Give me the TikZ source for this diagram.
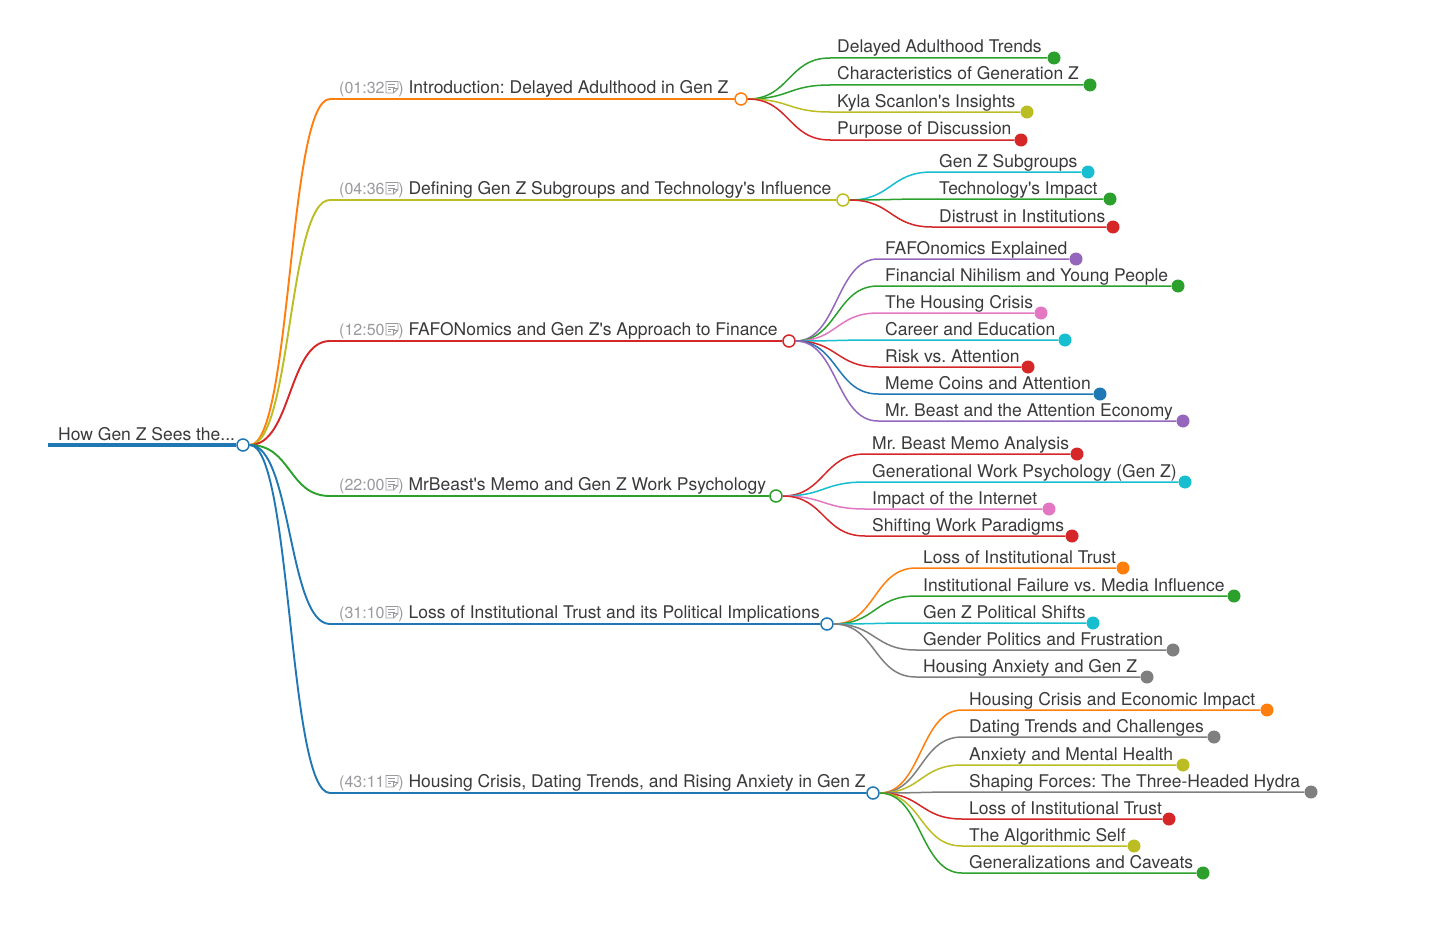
\documentclass[tikz,border=0pt]{standalone}
\usepackage{fontspec}
\setmainfont{TeX Gyre Heros}[Ligatures=TeXOff]

\definecolor{c-blue}{HTML}{1F77B4}
\definecolor{c-orange}{HTML}{FF7F0E}
\definecolor{c-green}{HTML}{2CA02C}
\definecolor{c-red}{HTML}{D62728}
\definecolor{c-purple}{HTML}{9467BD}
\definecolor{c-pink}{HTML}{E377C2}
\definecolor{c-gray}{HTML}{7F7F7F}
\definecolor{c-olive}{HTML}{BCBD22}
\definecolor{c-cyan}{HTML}{17BECF}
\definecolor{ink}{HTML}{3A3A3C}
\definecolor{stampgray}{HTML}{9A9A9E}

% Little note icon behind each time stamp.
\newcommand{\stampicon}{\kern1pt\tikz[baseline=0pt, x=1pt, y=1pt, line width=0.8pt]{%
    \draw[stampgray] (0,0) -- (0,11.5) -- (12,11.5) -- (12,4.5) -- (7.5,0) -- cycle;
    \draw[stampgray] (2.5,8.6) -- (9.5,8.6) (2.5,5.9) -- (9.5,5.9) (2.5,3.2) -- (5.5,3.2);
    \draw[stampgray] (7.5,0) -- (7.5,4.5) -- (12,4.5);}}

\begin{document}
\frenchspacing
\begin{tikzpicture}[%
        x = 1pt,
        y = -1pt,
        font = \fontsize{17.5}{20}\selectfont,
        hub/.style = {circle, draw, fill = white, line width = 1.5pt,
            inner sep = 0pt, minimum size = 12pt},
        leafdot/.style = {circle, inner sep = 0pt, minimum size = 13pt},
        branch/.style = {line width = 1.9pt},
        twig/.style = {line width = 1.5pt},
        maintext/.style = {anchor = base west, inner sep = 0pt, text = ink},
    ]

        % Page frame.
        \fill[white] (0,0) rectangle (1444,934);
        \useasboundingbox (0,0) rectangle (1444,934);

        % The root of the map.
        \coordinate (root-s) at (48,445);
        \node[hub, draw = c-blue] (root) at (243,445) {};
        \draw[c-blue, line width = 4pt] (root-s) -- (root.west);
        \node[maintext] (root-txt) at (58,440) {How Gen Z Sees the...};

        % The six chapters.
        \foreach \name/\y/\xe/\col/\stamptxt/\txt in {%
            intro/99/741/c-orange/01:32/{Introduction: Delayed Adulthood in Gen Z},
            groups/200/843/c-olive/04:36/{Defining Gen Z Subgroups and Technology's Influence},
            fafo/341/789/c-red/12:50/{FAFONomics and Gen Z's Approach to Finance},
            memo/496/776/c-green/22:00/{MrBeast's Memo and Gen Z Work Psychology},
            trust/624/827/c-blue/31:10/{Loss of Institutional Trust and its Political Implications},
            housing/793/873/c-blue/43:11/{Housing Crisis, Dating Trends, and Rising Anxiety in Gen Z}} {
            \coordinate (\name-s) at (330,\y);
            \node[hub, draw = \col] (\name) at (\xe,\y) {};
            \node[maintext] (\name-txt) at (339,\y-6)
                {{\fontsize{16}{18}\selectfont\color{stampgray}(\stamptxt\stampicon)}\ \txt};
            \draw[branch, \col] (root.east) .. controls +(42,0) and +(-42,0) .. (\name-s)
                -- (\name.west);
        }

        % Leaves of the first chapter.
        \foreach [count = \i] \y/\xd/\col/\txt in {%
            58/1054/c-green/{Delayed Adulthood Trends},
            85/1090/c-green/{Characteristics of Generation Z},
            112/1027/c-olive/{Kyla Scanlon's Insights},
            140/1021/c-red/{Purpose of Discussion}} {
            \coordinate (intro-\i-s) at (830,\y);
            \node[leafdot, fill = \col] (intro-\i) at (\xd,\y) {};
            \node[maintext] (intro-\i-txt) at (837,\y-5) {\txt};
            \draw[twig, \col] (intro.east) .. controls +(42,0) and +(-42,0) .. (intro-\i-s)
                -- (intro-\i.west);
        }

        % Leaves of the second chapter.
        \foreach [count = \i] \y/\xd/\col/\txt in {%
            172/1088/c-cyan/{Gen Z Subgroups},
            199/1110/c-green/{Technology's Impact},
            227/1113/c-red/{Distrust in Institutions}} {
            \coordinate (groups-\i-s) at (932,\y);
            \node[leafdot, fill = \col] (groups-\i) at (\xd,\y) {};
            \node[maintext] (groups-\i-txt) at (939,\y-5) {\txt};
            \draw[twig, \col] (groups.east) .. controls +(42,0) and +(-42,0) .. (groups-\i-s)
                -- (groups-\i.west);
        }

        % Leaves of the third chapter.
        \foreach [count = \i] \y/\xd/\col/\txt in {%
            259/1076/c-purple/{FAFOnomics Explained},
            286/1178/c-green/{Financial Nihilism and Young People},
            313/1041/c-pink/{The Housing Crisis},
            340/1065/c-cyan/{Career and Education},
            367/1028/c-red/{Risk vs. Attention},
            394/1100/c-blue/{Meme Coins and Attention},
            421/1183/c-purple/{Mr. Beast and the Attention Economy}} {
            \coordinate (fafo-\i-s) at (878,\y);
            \node[leafdot, fill = \col] (fafo-\i) at (\xd,\y) {};
            \node[maintext] (fafo-\i-txt) at (885,\y-5) {\txt};
            \draw[twig, \col] (fafo.east) .. controls +(42,0) and +(-42,0) .. (fafo-\i-s)
                -- (fafo-\i.west);
        }

        % Leaves of the fourth chapter.
        \foreach [count = \i] \y/\xd/\col/\txt in {%
            454/1077/c-red/{Mr. Beast Memo Analysis},
            482/1185/c-cyan/{Generational Work Psychology (Gen Z)},
            509/1049/c-pink/{Impact of the Internet},
            536/1072/c-red/{Shifting Work Paradigms}} {
            \coordinate (memo-\i-s) at (865,\y);
            \node[leafdot, fill = \col] (memo-\i) at (\xd,\y) {};
            \node[maintext] (memo-\i-txt) at (872,\y-5) {\txt};
            \draw[twig, \col] (memo.east) .. controls +(42,0) and +(-42,0) .. (memo-\i-s)
                -- (memo-\i.west);
        }

        % Leaves of the fifth chapter.
        \foreach [count = \i] \y/\xd/\col/\txt in {%
            568/1123/c-orange/{Loss of Institutional Trust},
            596/1234/c-green/{Institutional Failure vs. Media Influence},
            623/1093/c-cyan/{Gen Z Political Shifts},
            650/1173/c-gray/{Gender Politics and Frustration},
            677/1147/c-gray/{Housing Anxiety and Gen Z}} {
            \coordinate (trust-\i-s) at (916,\y);
            \node[leafdot, fill = \col] (trust-\i) at (\xd,\y) {};
            \node[maintext] (trust-\i-txt) at (923,\y-5) {\txt};
            \draw[twig, \col] (trust.east) .. controls +(42,0) and +(-42,0) .. (trust-\i-s)
                -- (trust-\i.west);
        }

        % Leaves of the sixth chapter.
        \foreach [count = \i] \y/\xd/\col/\txt in {%
            710/1267/c-orange/{Housing Crisis and Economic Impact},
            737/1214/c-gray/{Dating Trends and Challenges},
            765/1183/c-olive/{Anxiety and Mental Health},
            792/1311/c-gray/{Shaping Forces: The Three-Headed Hydra},
            819/1169/c-red/{Loss of Institutional Trust},
            846/1134/c-olive/{The Algorithmic Self},
            873/1203/c-green/{Generalizations and Caveats}} {
            \coordinate (housing-\i-s) at (962,\y);
            \node[leafdot, fill = \col] (housing-\i) at (\xd,\y) {};
            \node[maintext] (housing-\i-txt) at (969,\y-5) {\txt};
            \draw[twig, \col] (housing.east) .. controls +(42,0) and +(-42,0) .. (housing-\i-s)
                -- (housing-\i.west);
        }
    \end{tikzpicture}
\end{document}
